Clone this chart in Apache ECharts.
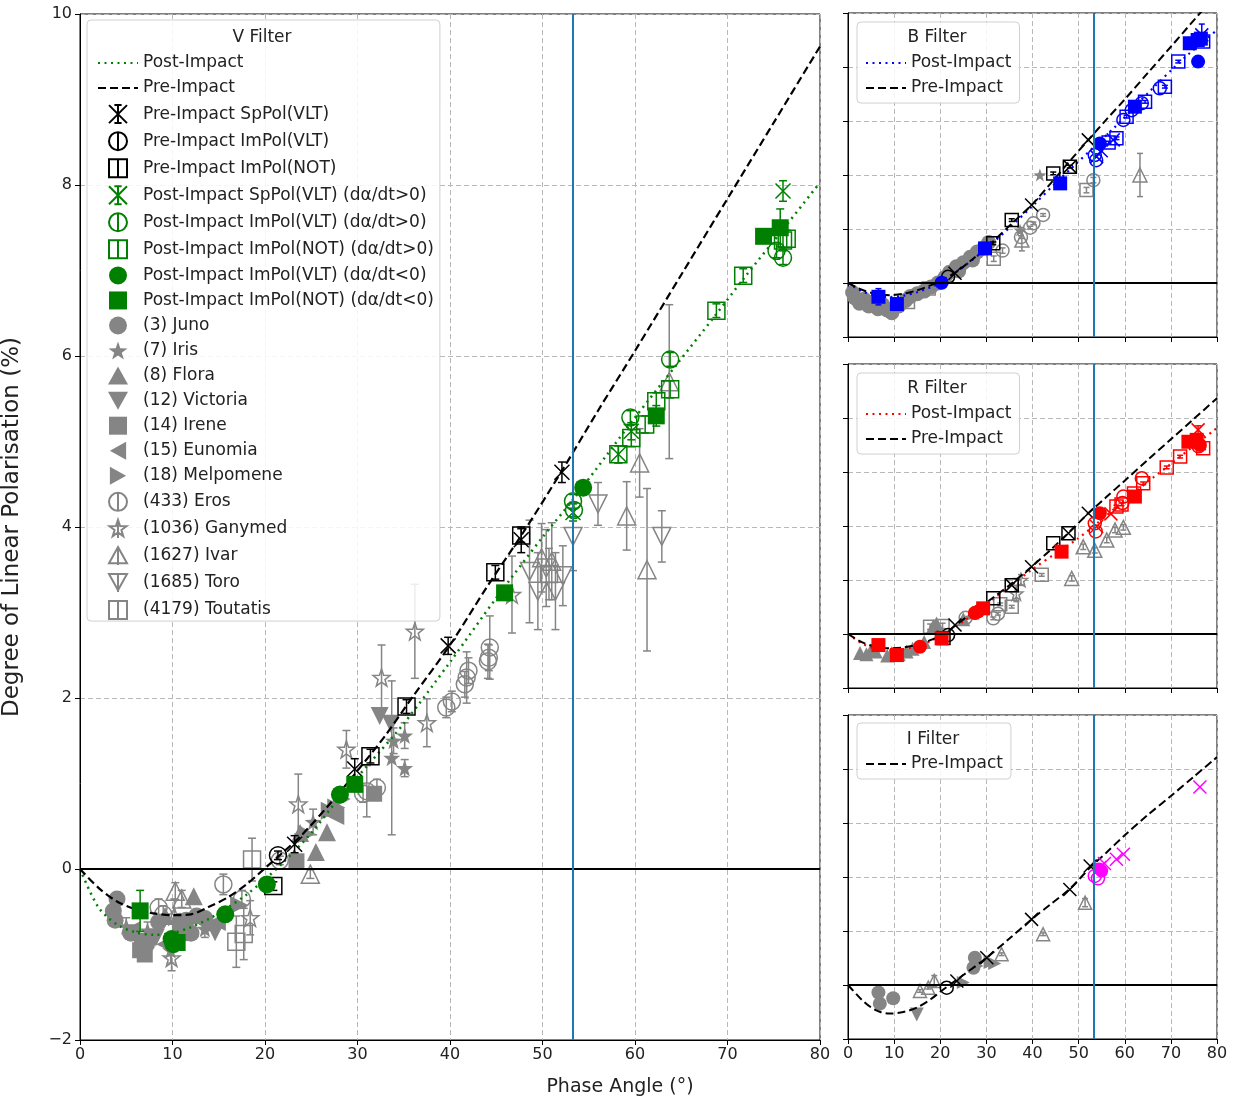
<!DOCTYPE html>
<html>
<head>
<meta charset="utf-8">
<script src="https://cdn.jsdelivr.net/npm/echarts@6/dist/echarts.min.js"></script>
<style>
html, body { margin: 0; padding: 0; background: #fff; }
#chart { width: 1239px; height: 1104px; }
</style>
</head>
<body>
<div id="chart"></div>
<script>
// ---------- ticks ----------
var xTicks = [0, 10, 20, 30, 40, 50, 60, 70, 80]
var yTicks = [-2, 0, 2, 4, 6, 8, 10]
var impactPhase = 53.3

// ---------- V filter (main panel) ----------
var vPreCurve = [[0,0],[2,-0.22],[4,-0.38],[6,-0.47],[8,-0.52],[10,-0.54],[12,-0.53],[14,-0.44],[16,-0.33],[18,-0.18],[20,0.01],[22,0.2],[24,0.4],[27,0.76],[30,1.15],[33,1.56],[36,2.02],[40,2.62],[44,3.3],[48,3.95],[52,4.64],[56,5.36],[60,6.06],[65,6.95],[70,7.84],[75,8.73],[80,9.62]]
var vPostCurve = [[0,0],[2,-0.45],[4,-0.65],[6,-0.74],[8,-0.77],[10,-0.75],[12,-0.68],[14,-0.58],[16,-0.45],[18,-0.3],[20,-0.12],[22,0.08],[25,0.42],[28,0.83],[31,1.2],[35,1.7],[40,2.42],[45,3.17],[50,3.88],[53.3,4.32],[57,4.85],[60,5.28],[64.5,5.9],[68.5,6.45],[72,6.94],[76,7.48],[80,8.03]]
// [phase, P, error]
var vPreSpPol = [[23.2,0.29,0.1],[29.7,1.17,0.12],[39.8,2.61,0.1],[47.7,3.85,0.15],[52.1,4.64,0.12]]
var vPreImPolVLT = [[21.4,0.16,0.05]]
var vPreImPolNOT = [[20.9,-0.2,0.05],[31.4,1.32,0.08],[35.3,1.9,0.08],[44.9,3.47,0.08],[47.7,3.9,0.08]]
var vPostSpPolPos = [[53.3,4.17,0.1],[58.2,4.85,0.1],[59.6,5.12,0.1],[76.0,7.93,0.12]]
var vPostImPolVLTPos = [[53.3,4.3,0.08],[53.4,4.2,0.08],[59.5,5.28,0.08],[63.8,5.96,0.08],[75.3,7.23,0.08],[76.0,7.15,0.08]]
var vPostImPolNOTPos = [[58.2,4.85,0.1],[59.6,5.04,0.1],[61.1,5.2,0.1],[62.3,5.47,0.1],[63.8,5.61,0.1],[68.8,6.53,0.08],[71.7,6.94,0.08],[76.0,7.35,0.1],[76.4,7.37,0.1]]
var vPostImPolVLTNeg = [[9.9,-0.82,0],[10.1,-0.88,0],[15.7,-0.53,0],[20.2,-0.18,0],[28.1,0.87,0],[54.4,4.46,0]]
var vPostImPolNOTNeg = [[6.5,-0.49,0.24],[10.5,-0.86,0],[29.7,0.99,0],[45.9,3.23,0],[62.3,5.3,0.12],[73.9,7.4,0],[75.7,7.5,0.22]]

var juno = [[3.6,-0.49,0],[4.0,-0.35,0],[3.8,-0.6,0],[8.5,-0.62,0],[11.5,-0.6,0],[12.6,-0.55,0],[10.8,-0.61,0],[13.5,-0.58,0],[5.5,-0.75,0],[7.2,-0.88,0],[12.0,-0.75,0]]
var iris = [[5.0,-0.67,0.1],[7.3,-0.72,0.1],[9.8,-0.95,0.15],[13.5,-0.7,0.1],[35.1,1.56,0.15],[35.1,1.18,0.1],[33.9,1.5,0.15],[25.2,0.55,0.15],[33.7,1.3,0.9]]
var flora = [[12.3,-0.32,0],[9.2,-0.55,0],[23.8,0.42,0],[26.7,0.43,0],[25.5,0.2,0]]
var victoria = [[14.6,-0.74,0],[11.2,-0.7,0],[32.4,1.79,0],[33.6,1.7,0],[8.2,-0.8,0]]
var irene = [[6.7,-0.84,0],[6.5,-0.95,0],[23.4,0.09,0],[10.8,-0.75,0],[31.8,0.88,0],[7.0,-1.0,0]]
var eunomia = [[9.2,-0.88,0],[5.5,-0.72,0],[14.8,-0.62,0],[27.6,0.62,0]]
var melpomene = [[14.1,-0.67,0],[17.2,-0.42,0],[27.0,0.68,0],[27.7,0.72,0],[28.3,0.82,0],[24.5,0.41,0]]
var eros = [[8.5,-0.45,0.1],[9.0,-0.53,0.1],[15.5,-0.18,0.12],[17.5,-0.35,0.1],[30.6,0.88,0.1],[31.0,0.91,0.3],[32.1,0.95,0.1],[39.6,1.89,0.12],[40.2,1.96,0.12],[41.6,2.16,0.15],[41.8,2.24,0.3],[42.0,2.32,0.15],[44.1,2.43,0.2],[44.3,2.59,0.37],[44.2,2.47,0.15],[21.6,0.1,0.05]]
var ganymed = [[9.9,-1.04,0.15],[18.4,-0.57,0.2],[23.6,0.76,0.35],[28.8,1.4,0.22],[32.6,2.24,0.38],[36.2,2.78,0.55],[37.5,1.71,0.28],[46.7,3.21,0.45],[10.2,-0.55,0.2]]
var ivar = [[10.3,-0.26,0.1],[11.0,-0.35,0.1],[24.9,-0.06,0.05],[59.1,4.13,0.4],[60.5,4.75,0.4],[61.3,3.5,0.95],[63.7,5.7,0.9],[49.9,3.64,0.4],[51.0,3.6,0.45]]
var toro = [[53.3,3.89,0.4],[56.0,4.27,0.25],[62.9,3.89,0.3],[48.6,3.48,0.6],[49.5,3.25,0.45],[51.4,3.25,0.45],[52.2,3.43,0.35],[50.4,3.52,0.45]]
var toutatis = [[18.6,0.11,0.25],[17.7,-0.76,0.3],[16.9,-0.85,0.3],[50.7,3.45,0.3]]

// ---------- B filter ----------
var bPreCurve = [[0,0],[3,-0.25],[6,-0.4],[9,-0.45],[12,-0.4],[15,-0.27],[18,-0.08],[20,0.08],[23.2,0.38],[27,0.88],[31.5,1.55],[35.5,2.2],[39.8,2.89],[44,3.7],[48,4.5],[52.1,5.3],[56,6.05],[60,6.8],[65,7.78],[70,8.75],[76.3,9.99],[80,10.7]]
var bPostCurve = [[0,0],[3,-0.3],[6,-0.47],[9,-0.52],[12,-0.47],[15,-0.34],[18,-0.15],[20,0.0],[25,0.6],[30,1.28],[35,2.05],[40,2.85],[45,3.7],[48.8,4.31],[54,5.15],[58,5.8],[62,6.5],[66,7.2],[70.5,7.95],[74,8.5],[78,9.08],[80,9.37]]
var bPreSpPol = [[23.2,0.36,0],[39.8,2.89,0],[52.1,5.3,0],[48.1,4.31,0]]
var bPreImPolVLT = [[21.7,0.23,0]]
var bPreImPolNOT = [[31.5,1.47,0.05],[35.5,2.33,0.05],[44.5,4.06,0.05],[48.1,4.31,0.05]]
var bPostSq = [[6.6,-0.51,0.3],[10.6,-0.78,0.1],[29.7,1.28,0],[46.0,3.69,0],[62.2,6.53,0],[74.1,8.88,0],[75.8,9.0,0],[76.5,9.05,0.2]]
var bPostCirc = [[20.3,0.01,0],[54.6,5.17,0],[75.9,8.2,0]]
var bPostOpenCirc = [[53.5,4.74,0],[53.8,4.55,0],[59.7,6.04,0],[63.7,6.66,0],[67.6,7.21,0],[61.5,6.4,0]]
var bPostOpenSq = [[58.2,5.36,0.05],[60.4,6.16,0.05],[64.4,6.71,0.05],[68.7,7.27,0.05],[71.6,8.2,0.05],[77.0,8.94,0.05],[56.5,5.2,0.05]]
var bPostSpPol = [[53.9,4.68,0],[54.9,4.9,0],[76.7,9.19,0.4],[57.5,5.3,0]]
var bGrayFilled = [[1,-0.35,0],[1.5,-0.55,0],[2.5,-0.75,0],[3.5,-0.6,0],[4.5,-0.85,0],[5.5,-0.7,0],[6.5,-0.95,0],[7.5,-0.8,0],[8.5,-1.0,0],[9.5,-1.1,0],[11,-0.85,0],[12.5,-0.65,0],[13.5,-0.5,0],[15,-0.4,0],[16.5,-0.3,0],[18,-0.15,0],[19.5,0.0,0],[21,0.2,0],[22,0.4,0],[23.5,0.6,0],[25,0.75,0],[26.5,0.95,0],[28,1.15,0],[29.5,1.3,0],[24,0.45,0],[27,0.85,0],[30.5,1.5,0]]
var bGrayOpenCirc = [[42.3,2.52,0.05],[40.2,2.21,0.05],[39.5,2.05,0.05],[53.2,3.81,0.1],[37.5,1.7,0.05],[33.5,1.2,0.1]]
var bGrayOpenSq = [[51.7,3.44,0.1],[31.6,0.9,0.1],[17.5,-0.2,0.05],[13,-0.7,0.05]]
var bGrayIvar = [[63.3,4.0,0.8],[37.7,1.59,0.4]]
var bGrayStar = [[41.6,4.0,0],[37.3,1.96,0.1]]

// ---------- R filter ----------
var rPreCurve = [[0,0],[3,-0.3],[6,-0.47],[9,-0.53],[12,-0.5],[15,-0.4],[18,-0.22],[21,0.03],[23.2,0.3],[27,0.8],[31.5,1.35],[35.5,1.88],[39.8,2.49],[44,3.13],[48,3.78],[52.1,4.47],[56,5.07],[60,5.68],[65,6.45],[70,7.21],[75,7.97],[80,8.73]]
var rPostCurve = [[0,0],[3,-0.35],[6,-0.55],[9,-0.6],[12,-0.56],[15,-0.45],[18,-0.25],[21,0.03],[25,0.47],[30,1.1],[35,1.75],[40,2.4],[45,2.98],[49.9,3.54],[54,4.1],[58,4.67],[62,5.23],[66.2,5.8],[70,6.3],[75,6.97],[80,7.63]]
var rPreSpPol = [[23.2,0.33,0],[39.8,2.49,0],[52.1,4.47,0],[47.8,3.73,0],[35.5,1.81,0]]
var rPreImPolVLT = [[21.7,-0.04,0]]
var rPreImPolNOT = [[20.7,-0.15,0],[31.5,1.32,0],[35.5,1.81,0],[44.5,3.36,0],[47.8,3.73,0]]
var rPostSq = [[6.6,-0.41,0.1],[10.6,-0.78,0.1],[20.3,-0.16,0],[29.3,0.95,0],[46.3,3.05,0],[62.2,5.09,0],[73.8,7.12,0],[75.6,7.19,0]]
var rPostCirc = [[15.6,-0.47,0],[28.2,0.83,0],[27.5,0.78,0],[54.6,4.47,0],[76.3,7.0,0]]
var rPostOpenCirc = [[53.5,4.1,0],[53.7,3.8,0],[59.7,5.09,0],[59.5,4.85,0],[63.7,5.77,0],[76.0,6.95,0]]
var rPostOpenSq = [[58.2,4.72,0.05],[59.3,4.8,0.05],[64.0,5.58,0.05],[69.1,6.17,0.05],[72.0,6.57,0.05],[77.0,6.88,0.05],[62.0,5.2,0.05]]
var rPostSpPol = [[53.9,3.98,0],[75.9,7.56,0.15],[57.0,4.45,0]]
var rGrayFilled = [[2.6,-0.7,0],[4,-0.75,0],[5,-0.6,0],[6,-0.65,0],[8.5,-0.8,0],[9.5,-0.7,0],[11,-0.75,0],[12.7,-0.65,0],[14,-0.55,0],[16.5,-0.3,0],[18.5,0.3,0],[19.2,0.39,0],[25,0.55,0],[27,0.8,0]]
var rGrayIvar = [[51,3.23,0.1],[56.1,3.48,0.1],[57.9,3.85,0.1],[59.7,3.95,0.1],[48.5,2.06,0.1],[53.5,3.1,0.1]]
var rGrayOpenSq = [[17.8,0.27,0.1],[20.5,0.3,0.1],[35.5,1.01,0.05],[42,2.19,0.05],[33,1.1,0.05]]
var rGrayOpenCirc = [[31.5,0.58,0.05],[32.5,0.75,0.05],[25.5,0.6,0.05]]
var rGrayStar = [[36.5,1.5,0.3],[37.5,2.0,0.2]]

// ---------- I filter ----------
var iPreCurve = [[0,0],[3,-0.55],[5,-0.83],[7,-1.0],[9,-1.06],[12,-1.0],[15,-0.83],[18,-0.52],[20,-0.25],[22,0],[25,0.37],[30,1.0],[35,1.72],[39.8,2.43],[44,3.0],[48.1,3.56],[52.5,4.35],[56,4.9],[60,5.55],[65,6.3],[70,7.0],[75,7.72],[80,8.44]]
var iPreSpPol = [[23.6,0.15,0],[30.1,1.01,0],[39.8,2.43,0],[48.1,3.54,0],[52.5,4.41,0]]
var iPreImPolVLT = [[21.4,-0.1,0]]
var iPostSpPol = [[76.3,7.33,0],[59.7,4.84,0],[58.2,4.66,0],[54.6,4.35,0],[55.6,4.5,0]]
var iPostCirc = [[55.0,4.22,0],[54.5,4.3,0]]
var iPostOpenCirc = [[53.5,4.04,0],[54.2,3.95,0]]
var iGrayJuno = [[6.6,-0.28,0],[6.9,-0.69,0],[9.8,-0.49,0],[27.5,1.01,0],[27.2,0.64,0]]
var iGrayVictoria = [[14.9,-1.09,0]]
var iGrayIvar = [[15.6,-0.22,0.05],[17.4,-0.1,0.05],[18.7,0.15,0.2],[33.3,1.14,0.05],[42.3,1.88,0.05],[51.4,3.05,0.15]]
var iGrayFilledTri = [[25,0.09,0],[28,0.7,0],[30.8,0.83,0],[31.8,0.8,0]]

// ---------- styling ----------
var FONT = 'DejaVu Sans'
var GREY = '#858585'
var GREEN = '#008000'
var BLUE = '#0000ff'
var RED = '#ff0000'
var MAGENTA = '#ff00ff'

var SYM = {
  x: 'path://M0,0L20,20M20,0L0,20',
  ocircle: 'path://M0,10A10,10,0,1,1,20,10A10,10,0,1,1,0,10Z',
  osquare: 'path://M0,0L20,0L20,20L0,20Z',
  star: 'path://M10,0L12.35,6.76L19.51,6.91L13.8,11.24L15.88,18.09L10,14L4.12,18.09L6.2,11.24L0.49,6.91L7.65,6.76Z',
  triUp: 'path://M10,0L20,18L0,18Z',
  triDown: 'path://M0,0L20,0L10,18Z',
  triLeft: 'path://M0,10L18,0L18,20Z',
  triRight: 'path://M0,0L18,10L0,20Z'
}
var ICON = {
  spx: 'path://M0,0L20,20M20,0L0,20M10,0L10,20M6,0L14,0M6,20L14,20',
  ocircBar: 'path://M0,10A10,10,0,1,1,20,10A10,10,0,1,1,0,10ZM10,0L10,20',
  osqBar: 'path://M0,0L20,0L20,20L0,20ZM10,0L10,20',
  square: 'path://M0,0L20,0L20,20L0,20Z',
  ostarBar: 'path://M10,0L12.35,6.76L19.51,6.91L13.8,11.24L15.88,18.09L10,14L4.12,18.09L6.2,11.24L0.49,6.91L7.65,6.76ZM10,0L10,20',
  otriBar: 'path://M10,0L20,18L0,18ZM10,0L10,20',
  otriDownBar: 'path://M0,0L20,0L10,18ZM10,0L10,20'
}

var series = []

function errRender (color, cap) {
  return function (params, api) {
    var x = api.value(0)
    var y = api.value(1)
    var e = api.value(2)
    var p1 = api.coord([x, y + e])
    var p2 = api.coord([x, y - e])
    var st = {stroke: color, lineWidth: 1.5}
    return {
      type: 'group',
      children: [
        {type: 'line', shape: {x1: p1[0], y1: p1[1], x2: p2[0], y2: p2[1]}, style: st},
        {type: 'line', shape: {x1: p1[0] - cap, y1: p1[1], x2: p1[0] + cap, y2: p1[1]}, style: st},
        {type: 'line', shape: {x1: p2[0] - cap, y1: p2[1], x2: p2[0] + cap, y2: p2[1]}, style: st}
      ]
    }
  }
}

function points (gi, name, data, sym, size, color, filled, z) {
  var cap = gi === 0 ? 4 : 3
  var withErr = data.filter(function (d) { return d[2] > 0 })
  if (withErr.length) {
    series.push({
      type: 'custom', name: name + ' err', xAxisIndex: gi, yAxisIndex: gi,
      data: withErr, renderItem: errRender(color, cap), z: z, silent: true, animation: false
    })
  }
  series.push({
    type: 'scatter', name: name, xAxisIndex: gi, yAxisIndex: gi,
    data: data.map(function (d) { return [d[0], d[1]] }),
    symbol: sym, symbolSize: size, z: z, silent: true, animation: false,
    itemStyle: filled
      ? {color: color, opacity: 1}
      : {color: 'rgba(255,255,255,0)', borderColor: color, borderWidth: 1.5, opacity: 1}
  })
}

function curve (gi, name, data, color, type, width, withMarks) {
  var s = {
    type: 'line', name: name, xAxisIndex: gi, yAxisIndex: gi, data: data,
    smooth: 0.3, symbol: 'none', showSymbol: false, z: 3, silent: true, animation: false,
    lineStyle: {color: color, type: type, width: width}, itemStyle: {color: color}
  }
  if (withMarks) {
    s.markLine = {
      silent: true, animation: false, symbol: ['none', 'none'], label: {show: false},
      data: [
        {yAxis: 0, lineStyle: {color: '#000', width: 2, type: 'solid'}},
        {xAxis: impactPhase, lineStyle: {color: '#1f77b4', width: 2, type: 'solid'}}
      ]
    }
  }
  series.push(s)
}

var DASH = [8, 4]
var DOT = [2, 4.5]

// main V panel
points(0, '(3) Juno', juno, 'circle', 17, GREY, true, 2)
points(0, '(7) Iris', iris, SYM.star, 17, GREY, true, 2)
points(0, '(8) Flora', flora, SYM.triUp, 18, GREY, true, 2)
points(0, '(12) Victoria', victoria, SYM.triDown, 18, GREY, true, 2)
points(0, '(14) Irene', irene, 'rect', 16, GREY, true, 2)
points(0, '(15) Eunomia', eunomia, SYM.triLeft, 18, GREY, true, 2)
points(0, '(18) Melpomene', melpomene, SYM.triRight, 18, GREY, true, 2)
points(0, '(433) Eros', eros, SYM.ocircle, 17, GREY, false, 2)
points(0, '(1036) Ganymed', ganymed, SYM.star, 17, GREY, false, 2)
points(0, '(1627) Ivar', ivar, SYM.triUp, 18, GREY, false, 2)
points(0, '(1685) Toro', toro, SYM.triDown, 18, GREY, false, 2)
points(0, '(4179) Toutatis', toutatis, SYM.osquare, 17, GREY, false, 2)
curve(0, 'Post-Impact', vPostCurve, GREEN, DOT, 2.5, false)
curve(0, 'Pre-Impact', vPreCurve, '#000', DASH, 2.2, true)
points(0, 'Pre-Impact SpPol(VLT)', vPreSpPol, SYM.x, 15, '#000', false, 4)
points(0, 'Pre-Impact ImPol(VLT)', vPreImPolVLT, SYM.ocircle, 17, '#000', false, 4)
points(0, 'Pre-Impact ImPol(NOT)', vPreImPolNOT, SYM.osquare, 17, '#000', false, 4)
points(0, 'Post-Impact SpPol(VLT) (dα/dt>0)', vPostSpPolPos, SYM.x, 15, GREEN, false, 4)
points(0, 'Post-Impact ImPol(VLT) (dα/dt>0)', vPostImPolVLTPos, SYM.ocircle, 17, GREEN, false, 4)
points(0, 'Post-Impact ImPol(NOT) (dα/dt>0)', vPostImPolNOTPos, SYM.osquare, 17, GREEN, false, 4)
points(0, 'Post-Impact ImPol(VLT) (dα/dt<0)', vPostImPolVLTNeg, 'circle', 18, GREEN, true, 4)
points(0, 'Post-Impact ImPol(NOT) (dα/dt<0)', vPostImPolNOTNeg, 'rect', 17, GREEN, true, 4)

// B panel
points(1, 'bGreyFilled', bGrayFilled, 'circle', 15, GREY, true, 2)
points(1, 'bGreyOpenCirc', bGrayOpenCirc, SYM.ocircle, 13, GREY, false, 2)
points(1, 'bGreyOpenSq', bGrayOpenSq, SYM.osquare, 13, GREY, false, 2)
points(1, 'bGreyIvar', bGrayIvar, SYM.triUp, 14, GREY, false, 2)
points(1, 'bGreyStar', bGrayStar, SYM.star, 13, GREY, true, 2)
curve(1, 'Post-Impact ', bPostCurve, BLUE, DOT, 2.2, false)
curve(1, 'Pre-Impact ', bPreCurve, '#000', DASH, 2, true)
points(1, 'bPreSpPol', bPreSpPol, SYM.x, 13, '#000', false, 4)
points(1, 'bPreImPolVLT', bPreImPolVLT, SYM.ocircle, 13, '#000', false, 4)
points(1, 'bPreImPolNOT', bPreImPolNOT, SYM.osquare, 13, '#000', false, 4)
points(1, 'bPostOpenCirc', bPostOpenCirc, SYM.ocircle, 13, BLUE, false, 4)
points(1, 'bPostOpenSq', bPostOpenSq, SYM.osquare, 13, BLUE, false, 4)
points(1, 'bPostSpPol', bPostSpPol, SYM.x, 13, BLUE, false, 4)
points(1, 'bPostCirc', bPostCirc, 'circle', 14, BLUE, true, 4)
points(1, 'bPostSq', bPostSq, 'rect', 14, BLUE, true, 4)

// R panel
points(2, 'rGreyFilled', rGrayFilled, SYM.triUp, 14, GREY, true, 2)
points(2, 'rGreyIvar', rGrayIvar, SYM.triUp, 14, GREY, false, 2)
points(2, 'rGreyOpenSq', rGrayOpenSq, SYM.osquare, 13, GREY, false, 2)
points(2, 'rGreyOpenCirc', rGrayOpenCirc, SYM.ocircle, 13, GREY, false, 2)
points(2, 'rGreyStar', rGrayStar, SYM.star, 13, GREY, false, 2)
curve(2, 'Post-Impact  ', rPostCurve, RED, DOT, 2.2, false)
curve(2, 'Pre-Impact  ', rPreCurve, '#000', DASH, 2, true)
points(2, 'rPreSpPol', rPreSpPol, SYM.x, 13, '#000', false, 4)
points(2, 'rPreImPolVLT', rPreImPolVLT, SYM.ocircle, 13, '#000', false, 4)
points(2, 'rPreImPolNOT', rPreImPolNOT, SYM.osquare, 13, '#000', false, 4)
points(2, 'rPostOpenCirc', rPostOpenCirc, SYM.ocircle, 13, RED, false, 4)
points(2, 'rPostOpenSq', rPostOpenSq, SYM.osquare, 13, RED, false, 4)
points(2, 'rPostSpPol', rPostSpPol, SYM.x, 13, RED, false, 4)
points(2, 'rPostCirc', rPostCirc, 'circle', 14, RED, true, 4)
points(2, 'rPostSq', rPostSq, 'rect', 14, RED, true, 4)

// I panel
points(3, 'iGreyJuno', iGrayJuno, 'circle', 14, GREY, true, 2)
points(3, 'iGreyVictoria', iGrayVictoria, SYM.triDown, 14, GREY, true, 2)
points(3, 'iGreyTri', iGrayFilledTri, SYM.triRight, 13, GREY, true, 2)
points(3, 'iGreyIvar', iGrayIvar, SYM.triUp, 13, GREY, false, 2)
curve(3, 'Pre-Impact   ', iPreCurve, '#000', DASH, 2, true)
points(3, 'iPreSpPol', iPreSpPol, SYM.x, 13, '#000', false, 4)
points(3, 'iPreImPolVLT', iPreImPolVLT, SYM.ocircle, 13, '#000', false, 4)
points(3, 'iPostOpenCirc', iPostOpenCirc, SYM.ocircle, 13, MAGENTA, false, 4)
points(3, 'iPostSpPol', iPostSpPol, SYM.x, 13, MAGENTA, false, 4)
points(3, 'iPostCirc', iPostCirc, 'circle', 13, MAGENTA, true, 4)

// ---------- layout ----------
var grids = [
  {left: 80, top: 14, width: 740, height: 1026},
  {left: 848, top: 13, width: 369, height: 324},
  {left: 848, top: 364, width: 369, height: 324},
  {left: 848, top: 715, width: 369, height: 324}
]

function xAxis (gi, showLabels) {
  return {
    type: 'value', gridIndex: gi,
    min: xTicks[0], max: xTicks[xTicks.length - 1], interval: xTicks[1] - xTicks[0],
    axisLine: {onZero: false, lineStyle: {color: '#000', width: 1}},
    axisTick: {show: true, length: 5, lineStyle: {color: '#000'}},
    axisLabel: {show: showLabels, fontSize: 16, color: '#222', margin: 7, fontFamily: FONT},
    splitLine: {show: true, lineStyle: {type: [5, 3], color: '#b8b8b8', width: 1}}
  }
}
function yAxis (gi, showLabels) {
  return {
    type: 'value', gridIndex: gi,
    min: yTicks[0], max: yTicks[yTicks.length - 1], interval: yTicks[1] - yTicks[0],
    axisLine: {onZero: false, lineStyle: {color: '#000', width: 1}},
    axisTick: {show: true, length: 5, lineStyle: {color: '#000'}},
    axisLabel: {show: showLabels, fontSize: 16, color: '#222', margin: 8, fontFamily: FONT,
      formatter: function (v) { return String(v).replace('-', '\u2212') }},
    splitLine: {show: true, lineStyle: {type: [5, 3], color: '#b8b8b8', width: 1}}
  }
}

var NO_SYMBOL = {opacity: 0}
var legendBase = {
  orient: 'vertical', itemWidth: 40, itemHeight: 18, itemGap: 7.05,
  backgroundColor: 'rgba(255,255,255,0.85)', borderColor: '#d0d0d0', borderWidth: 1, borderRadius: 4,
  selectedMode: false, z: 10,
  formatter: function (name) { return name.trim() },
  textStyle: {fontSize: 17, color: '#222', lineHeight: 18, fontFamily: FONT}
}
function legend (extra) {
  return Object.assign({}, legendBase, extra)
}

var option = {
  backgroundColor: '#fff',
  animation: false,
  textStyle: {fontFamily: FONT},
  grid: grids.map(function (g) {
    return Object.assign({show: true, borderColor: '#000', borderWidth: 1, backgroundColor: 'transparent',
      containLabel: false, outerBoundsMode: 'none'}, g)
  }),
  xAxis: [xAxis(0, true), xAxis(1, false), xAxis(2, false), xAxis(3, true)],
  yAxis: [
    Object.assign(yAxis(0, true), {
      name: 'Degree of Linear Polarisation (%)', nameLocation: 'middle', nameGap: 56, nameRotate: 90,
      nameTextStyle: {fontSize: 23, color: '#222', fontFamily: FONT}
    }),
    yAxis(1, false), yAxis(2, false), yAxis(3, false)
  ],
  legend: [
    legend({
      left: 87, top: 20, padding: [34, 6, 1, 10],
      data: [
        {name: 'Post-Impact', itemStyle: NO_SYMBOL},
        {name: 'Pre-Impact', itemStyle: NO_SYMBOL},
        {name: 'Pre-Impact SpPol(VLT)', icon: ICON.spx},
        {name: 'Pre-Impact ImPol(VLT)', icon: ICON.ocircBar},
        {name: 'Pre-Impact ImPol(NOT)', icon: ICON.osqBar},
        {name: 'Post-Impact SpPol(VLT) (dα/dt>0)', icon: ICON.spx},
        {name: 'Post-Impact ImPol(VLT) (dα/dt>0)', icon: ICON.ocircBar},
        {name: 'Post-Impact ImPol(NOT) (dα/dt>0)', icon: ICON.osqBar},
        {name: 'Post-Impact ImPol(VLT) (dα/dt<0)', icon: 'circle'},
        {name: 'Post-Impact ImPol(NOT) (dα/dt<0)', icon: ICON.square},
        {name: '(3) Juno', icon: 'circle'},
        {name: '(7) Iris', icon: SYM.star},
        {name: '(8) Flora', icon: SYM.triUp},
        {name: '(12) Victoria', icon: SYM.triDown},
        {name: '(14) Irene', icon: ICON.square},
        {name: '(15) Eunomia', icon: SYM.triLeft},
        {name: '(18) Melpomene', icon: SYM.triRight},
        {name: '(433) Eros', icon: ICON.ocircBar},
        {name: '(1036) Ganymed', icon: ICON.ostarBar},
        {name: '(1627) Ivar', icon: ICON.otriBar},
        {name: '(1685) Toro', icon: ICON.otriDownBar},
        {name: '(4179) Toutatis', icon: ICON.osqBar}
      ]
    }),
    legend({left: 857, top: 22, padding: [32, 8, 6, 8], itemStyle: NO_SYMBOL, data: ['Post-Impact ', 'Pre-Impact ']}),
    legend({left: 857, top: 373, padding: [32, 8, 6, 8], itemStyle: NO_SYMBOL, data: ['Post-Impact  ', 'Pre-Impact  ']}),
    legend({left: 857, top: 723, padding: [32, 8, 6, 8], itemStyle: NO_SYMBOL, data: ['Pre-Impact   ']})
  ],
  graphic: [
    {type: 'text', x: 262, y: 38, z: 100, style: {text: 'V Filter', fontSize: 17, fill: '#222', fontFamily: FONT, align: 'center', verticalAlign: 'middle'}},
    {type: 'text', x: 937, y: 38, z: 100, style: {text: 'B Filter', fontSize: 17, fill: '#222', fontFamily: FONT, align: 'center', verticalAlign: 'middle'}},
    {type: 'text', x: 937, y: 389, z: 100, style: {text: 'R Filter', fontSize: 17, fill: '#222', fontFamily: FONT, align: 'center', verticalAlign: 'middle'}},
    {type: 'text', x: 933, y: 740, z: 100, style: {text: 'I Filter', fontSize: 17, fill: '#222', fontFamily: FONT, align: 'center', verticalAlign: 'middle'}},
    {type: 'text', x: 620, y: 1087, z: 100, style: {text: 'Phase Angle (°)', fontSize: 19, fill: '#222', fontFamily: FONT, align: 'center', verticalAlign: 'middle'}}
  ],
  series: series
}

var chart = echarts.init(document.getElementById('chart'), null, {renderer: 'canvas'})
chart.setOption(option)
</script>
</body>
</html>
